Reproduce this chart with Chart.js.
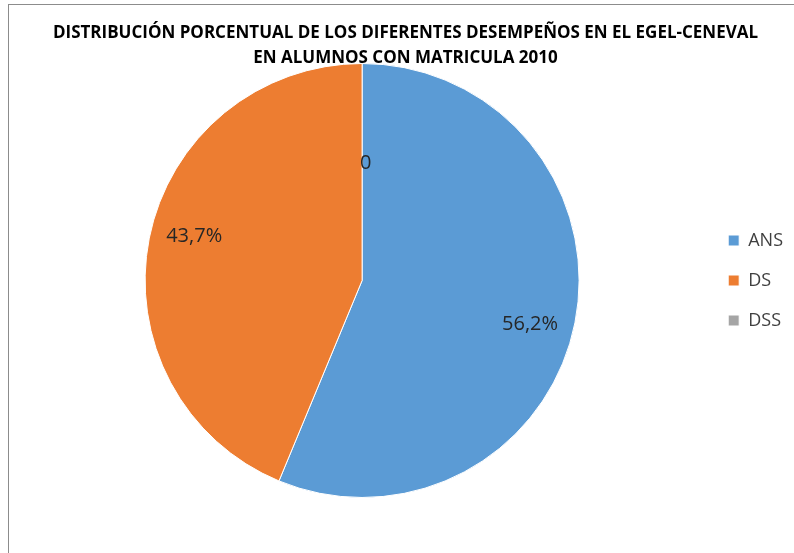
<!DOCTYPE html>
<html>
<head>
<meta charset="utf-8">
<script src="https://cdn.jsdelivr.net/npm/chart.js@4/dist/chart.umd.min.js"></script>
<style>
  html, body { margin: 0; padding: 0; background: #fff; }
  #wrap { position: relative; width: 794px; height: 553px; }
  #frame { position: absolute; left: 8px; top: 4px; width: 800px; height: 560px;
           border-left: 1px solid #8c8c8c; border-top: 1px solid #8c8c8c; pointer-events: none; }
</style>
</head>
<body>
<div id="wrap">
  <canvas id="pie-chart" width="794" height="553"></canvas>
  <div id="frame"></div>
</div>
<script>
const titleLines = [
  'DISTRIBUCIÓN PORCENTUAL DE LOS DIFERENTES DESEMPEÑOS EN EL EGEL-CENEVAL',
  'EN ALUMNOS CON MATRICULA 2010'
];
const categories = ['ANS', 'DS', 'DSS'];
const percentages = [56.2, 43.7, 0];
const sliceColors = ['#5B9BD5', '#ED7D31', '#A5A5A5'];

const fontFamily = "'Open Sans', sans-serif";

function formatValue(v) {
  if (v === 0) return '0';
  return v.toFixed(1).replace('.', ',') + '%';
}

// draws the value labels inside each slice
const sliceLabels = {
  id: 'sliceLabels',
  afterDatasetsDraw(chart) {
    const ctx = chart.ctx;
    const meta = chart.getDatasetMeta(0);
    ctx.save();
    ctx.font = '20px ' + fontFamily;
    ctx.fillStyle = '#262626';
    ctx.textAlign = 'center';
    ctx.textBaseline = 'middle';
    meta.data.forEach((arc, i) => {
      const p = arc.getProps(['x', 'y', 'startAngle', 'endAngle', 'outerRadius'], true);
      const v = percentages[i];
      // excel nudges the labels a little clockwise
      const mid = (p.startAngle + p.endAngle) / 2 + (v === 0 ? 0.03 : 0.06);
      const r = p.outerRadius * (v === 0 ? 0.54 : 0.8);
      ctx.fillText(formatValue(v), p.x + Math.cos(mid) * r, p.y + Math.sin(mid) * r);
    });
    ctx.restore();
  }
};

const canvas = document.getElementById('pie-chart');
const chart = new Chart(canvas.getContext('2d'), {
  type: 'pie',
  data: {
    labels: categories,
    datasets: [{
      data: percentages,
      backgroundColor: sliceColors,
      borderColor: '#ffffff',
      borderWidth: 1
    }]
  },
  options: {
    responsive: false,
    animation: false,
    layout: { padding: { left: 18, right: 1, top: 0, bottom: 55 } },
    plugins: {
      title: {
        display: true,
        text: titleLines,
        color: '#000000',
        font: { family: fontFamily, size: 17, weight: 'bold', lineHeight: 1.5 },
        padding: { top: 20, bottom: -8 }
      },
      legend: {
        position: 'right',
        fullSize: false,
        labels: {
          boxWidth: 11,
          boxHeight: 11,
          padding: 22,
          color: '#404040',
          font: { family: fontFamily, size: 18 }
        }
      },
      tooltip: { enabled: false }
    }
  },
  plugins: [sliceLabels]
});
</script>
</body>
</html>
